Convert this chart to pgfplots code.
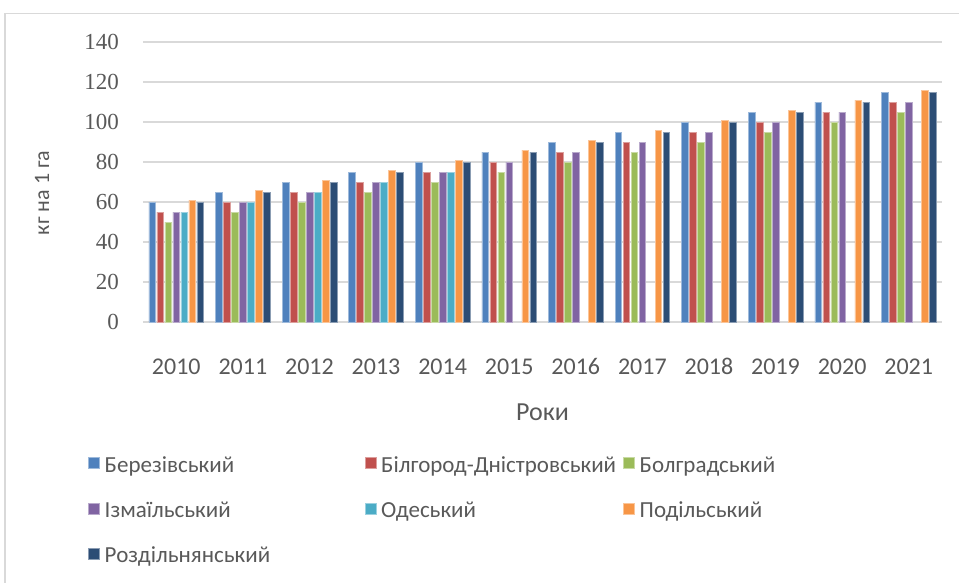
\documentclass[border=0pt]{standalone}
\usepackage{fontspec}
\setmainfont{Carlito}
\newfontfamily\numfont{Liberation Serif}
\usepackage{pgfplots}
\pgfplotsset{compat=1.18}
\definecolor{cA}{HTML}{4F81BD}
\definecolor{cB}{HTML}{C0504D}
\definecolor{cC}{HTML}{9BBB59}
\definecolor{cD}{HTML}{8064A2}
\definecolor{cE}{HTML}{4BACC6}
\definecolor{cF}{HTML}{F79646}
\definecolor{cG}{HTML}{2C4D75}
\definecolor{txt}{HTML}{595959}
\definecolor{grd}{HTML}{D9D9D9}
\begin{document}
\begin{tikzpicture}[x=1pt,y=1pt]
\path[use as bounding box] (0,0) rectangle (959,-583);
\draw[grd, line width=1.5pt] (5,-600)--(5,-13.5)--(980,-13.5);
\begin{axis}[
  at={(143pt,-322pt)}, anchor=south west,
  scale only axis, width=799pt, height=280pt,
  ybar=1.4pt, bar width=6.6pt,
  xmin=-0.5, xmax=11.5, ymin=0, ymax=140,
  ytick={0,20,...,140},
  xtick={0,...,11},
  xticklabels={2010,2011,2012,2013,2014,2015,2016,2017,2018,2019,2020,2021},
  ymajorgrids, major grid style={grd, line width=1.3pt},
  axis line style={draw=none},
  tick style={draw=none},
  /pgf/number format/assume math mode=true,
  yticklabel style={font=\numfont\fontsize{23}{26}\selectfont, text=txt, anchor=east, inner sep=0pt, xshift=-24pt},
  xticklabel style={font=\fontsize{24}{28}\selectfont, text=txt, anchor=north, inner sep=0pt, yshift=-32pt},
  ylabel={кг на 1 га},
  ylabel style={font=\fontsize{22}{26}\selectfont, text=txt, at={(axis description cs:-0.1264,0.461)}, anchor=center, rotate=0},
  xlabel={Роки},
  xlabel style={font=\fontsize{26}{30}\selectfont, text=txt, at={(axis description cs:0.5,-0.321)}, anchor=center},
  legend columns=3,
  legend cell align=left,
  legend image code/.code={\fill[#1] (0pt,-5.5pt) rectangle (11pt,5.5pt);},
  legend style={at={(axis description cs:-0.0688,-0.466)}, anchor=north west, draw=none, fill=none,
    inner sep=0pt, column sep=5pt, row sep=24pt,
    font=\fontsize{23}{28}\selectfont, text=txt,
    nodes={inner sep=0pt}},
]
\addplot[fill=cA, draw=cA!55!white, line width=0.5pt] coordinates {(0,60)(1,65)(2,70)(3,75)(4,80)(5,85)(6,90)(7,95)(8,100)(9,105)(10,110)(11,115)};
\addlegendentry{\makebox[255pt][l]{\strut Березівський}}
\addplot[fill=cB, draw=cB!55!white, line width=0.5pt] coordinates {(0,55)(1,60)(2,65)(3,70)(4,75)(5,80)(6,85)(7,90)(8,95)(9,100)(10,105)(11,110)};
\addlegendentry{\makebox[237pt][l]{\strut Білгород-Дністровський}}
\addplot[fill=cC, draw=cC!55!white, line width=0.5pt] coordinates {(0,50)(1,55)(2,60)(3,65)(4,70)(5,75)(6,80)(7,85)(8,90)(9,95)(10,100)(11,105)};
\addlegendentry{\strut Болградський}
\addplot[fill=cD, draw=cD!55!white, line width=0.5pt] coordinates {(0,55)(1,60)(2,65)(3,70)(4,75)(5,80)(6,85)(7,90)(8,95)(9,100)(10,105)(11,110)};
\addlegendentry{\makebox[255pt][l]{\strut Ізмаїльський}}
\addplot[fill=cE, draw=cE!55!white, line width=0.5pt] coordinates {(0,55)(1,60)(2,65)(3,70)(4,75)};
\addlegendentry{\makebox[237pt][l]{\strut Одеський}}
\addplot[fill=cF, draw=cF!55!white, line width=0.5pt] coordinates {(0,61)(1,66)(2,71)(3,76)(4,81)(5,86)(6,91)(7,96)(8,101)(9,106)(10,111)(11,116)};
\addlegendentry{\strut Подільський}
\addplot[fill=cG, draw=cG!55!white, line width=0.5pt] coordinates {(0,60)(1,65)(2,70)(3,75)(4,80)(5,85)(6,90)(7,95)(8,100)(9,105)(10,110)(11,115)};
\addlegendentry{\makebox[255pt][l]{\strut Роздільнянський}}
\end{axis}
\end{tikzpicture}
\end{document}
